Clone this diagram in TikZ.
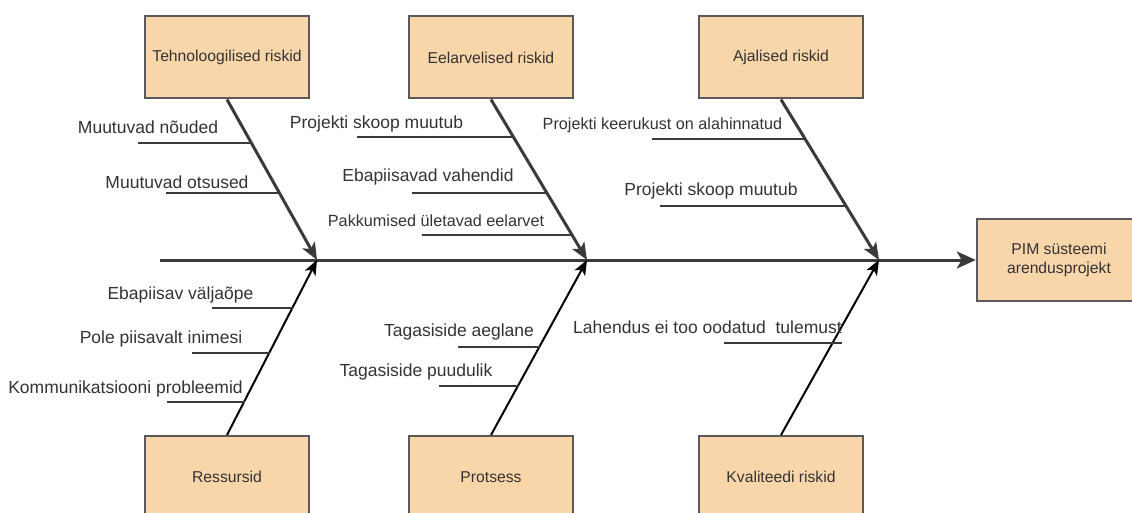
\documentclass[tikz,border=0pt]{standalone}
\usepackage{fontspec}
\setmainfont{Liberation Sans}
\usetikzlibrary{arrows.meta}

\definecolor{kastfill}{HTML}{F9D6AA}
\definecolor{kastdraw}{HTML}{5A5A5A}
\definecolor{tekst}{HTML}{333333}
\definecolor{luu}{HTML}{3A3A3A}

\begin{document}
\begin{tikzpicture}[x=1pt, y=-1pt]

	\tikzstyle{kast}=[rectangle, draw=kastdraw, fill=kastfill, line width=2pt, minimum width=164pt, minimum height=82pt, inner sep=2pt, text=tekst, font=\fontsize{15.7}{19}\selectfont, align=center]
	\tikzstyle{spine}=[line width=3pt, luu, -{Stealth[length=19pt, width=17pt, inset=5pt]}]
	\tikzstyle{upper}=[line width=3pt, luu, -{Stealth[length=17pt, width=14pt, inset=4pt]}]
	\tikzstyle{lower}=[line width=2pt, black, -{Stealth[length=15pt, width=12pt, inset=4pt]}]
	\tikzstyle{rib}=[line width=2pt, luu]
	\tikzstyle{lbl}=[anchor=base, inner sep=0pt, text=tekst, font=\fontsize{17.5}{20}\selectfont]
	\tikzstyle{lblk}=[lbl, font=\fontsize{16.2}{20}\selectfont]

	\useasboundingbox (0,0) rectangle (1132,513);
	\clip (0,0) rectangle (1132,513);

	\coordinate (tail) at (160, 260);
	\coordinate (j_1) at (317, 260);
	\coordinate (j_2) at (587, 260);
	\coordinate (j_3) at (879, 260);

	\coordinate (k_1) at (227, 57.5); % ULEMINE RIDA
	\coordinate (k_2) at (491, 57.5); % ULEMINE RIDA
	\coordinate (k_3) at (781, 57.5); % ULEMINE RIDA
	\coordinate (k_4) at (227, 477); % ALUMINE RIDA
	\coordinate (k_5) at (491, 477); % ALUMINE RIDA
	\coordinate (k_6) at (781, 477); % ALUMINE RIDA
	\coordinate (k_0) at (1059, 260); % TULEMUS

	\node[kast] (k_1) at (k_1) {Tehnoloogilised riskid};
	\node[kast] (k_2) at (k_2) {Eelarvelised riskid};
	\node[kast] (k_3) at (k_3) {Ajalised riskid};
	\node[kast] (k_4) at (k_4) {Ressursid};
	\node[kast] (k_5) at (k_5) {Protsess};
	\node[kast] (k_6) at (k_6) {Kvaliteedi riskid};
	\node[kast, line width=2.5pt] (k_0) at (k_0) {PIM süsteemi\\arendusprojekt};

	% selgroog
	\draw[spine] (tail) -- (k_0);

	% luud
	\draw[upper] (k_1.south) -- (j_1);
	\draw[upper] (k_2.south) -- (j_2);
	\draw[upper] (k_3.south) -- (j_3);
	\draw[lower] (k_4.north) -- (j_1);
	\draw[lower] (k_5.north) -- (j_2);
	\draw[lower] (k_6.north) -- (j_3);

	% harud
	\coordinate (p_1_1) at (138, 143);   \coordinate (q_1_1) at (252.3, 143);
	\coordinate (p_1_2) at (166, 193);   \coordinate (q_1_2) at (280.0, 193);
	\coordinate (p_2_1) at (357, 137);   \coordinate (q_2_1) at (513.7, 137);
	\coordinate (p_2_2) at (412, 193);   \coordinate (q_2_2) at (547.1, 193);
	\coordinate (p_2_3) at (422, 235);   \coordinate (q_2_3) at (572.1, 235);
	\coordinate (p_3_1) at (652, 139);   \coordinate (q_3_1) at (806.1, 139);
	\coordinate (p_3_2) at (660, 206);   \coordinate (q_3_2) at (846.5, 206);
	\coordinate (p_4_1) at (212, 308);   \coordinate (q_4_1) at (292.6, 308);
	\coordinate (p_4_2) at (192, 353);   \coordinate (q_4_2) at (269.7, 353);
	\coordinate (p_4_3) at (167, 402);   \coordinate (q_4_3) at (244.8, 402);
	\coordinate (p_5_1) at (458, 347);   \coordinate (q_5_1) at (539.8, 347);
	\coordinate (p_5_2) at (439, 386);   \coordinate (q_5_2) at (518.7, 386);
	\coordinate (p_6_1) at (724, 343);   \coordinate (q_6_1) at (842.0, 343);

	\foreach \i in {1_1, 1_2, 2_1, 2_2, 2_3, 3_1, 3_2, 4_1, 4_2, 4_3, 5_1, 5_2, 6_1}
		\draw[rib] (p_\i) -- (q_\i);

	\node[lbl] (t_1_1) at (148, 134) {Muutuvad nõuded};
	\node[lbl] (t_1_2) at (177, 189) {Muutuvad otsused};
	\node[lbl] (t_2_1) at (376.5, 129) {Projekti skoop muutub};
	\node[lbl] (t_2_2) at (428, 182) {Ebapiisavad vahendid};
	\node[lblk] (t_2_3) at (436, 226) {Pakkumised ületavad eelarvet};
	\node[lblk] (t_3_1) at (662.5, 130) {Projekti keerukust on alahinnatud};
	\node[lbl] (t_3_2) at (711, 196) {Projekti skoop muutub};
	\node[lbl] (t_4_1) at (180.5, 299) {Ebapiisav väljaõpe};
	\node[lbl] (t_4_2) at (161, 343) {Pole piisavalt inimesi};
	\node[lbl] (t_4_3) at (125.5, 393) {Kommunikatsiooni probleemid};
	\node[lbl] (t_5_1) at (459, 336) {Tagasiside aeglane};
	\node[lbl] (t_5_2) at (416, 376) {Tagasiside puudulik};
	\node[lbl] (t_6_1) at (707.5, 333) {Lahendus ei too oodatud\ \ tulemust};
\end{tikzpicture}
\end{document}
